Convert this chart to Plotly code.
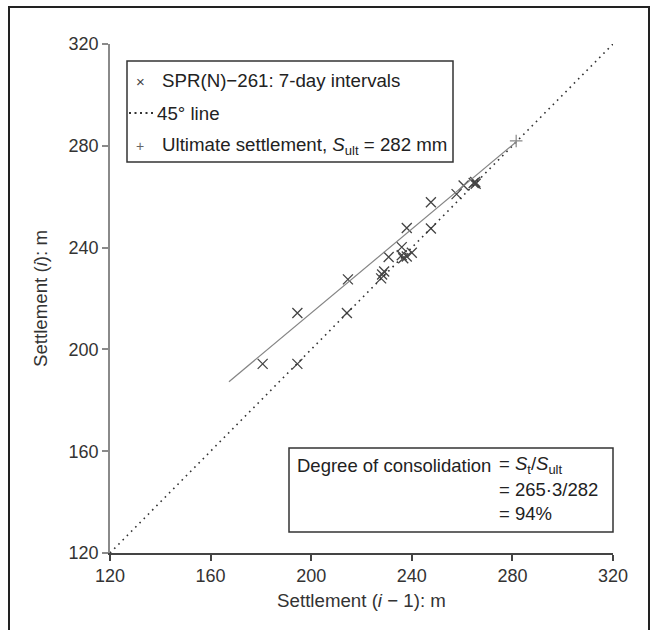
import plotly.graph_objects as go

# Data: settlement pairs (S_{i-1}, S_i), 7-day intervals
s_prev = [180.7, 194.5, 194.5, 214.2, 214.6, 227.8, 228.2, 229.0, 230.8, 236.0,
          236.0, 236.6, 238.0, 240.0, 238.0, 247.6, 247.6, 257.8, 260.6, 264.6,
          265.4, 265.2]
s_curr = [194.3, 194.3, 214.3, 214.3, 227.5, 227.9, 229.4, 230.6, 236.3, 240.2,
          237.0, 235.8, 236.5, 238.0, 247.7, 247.5, 257.8, 261.0, 264.4, 265.4,
          265.1, 265.8]

# 45 degree line
line45_x = [120, 320]
line45_y = [120, 320]

# Fitted line endpoints
fit_x = [167.3, 281.6]
fit_y = [187.3, 281.6]

# Ultimate settlement
s_ult = 282
ult_x = [281.5]
ult_y = [281.9]

tick_vals = [120, 160, 200, 240, 280, 320]

legend_labels = [
    "SPR(N)\u2212261: 7-day intervals",
    "45\u00b0 line",
    "Ultimate settlement, <i>S</i><sub>ult</sub> = %d mm" % s_ult,
]
box_lines = [
    "Degree of consolidation",
    "= <i>S</i><sub>t</sub>/<i>S</i><sub>ult</sub>",
    "= 265\u00b73/282",
    "= 94%",
]

FONT = "Liberation Sans, Arial, Helvetica, sans-serif"
TXT = "#222"

fig = go.Figure()

fig.add_trace(go.Scatter(
    x=s_prev, y=s_curr, mode="markers", name=legend_labels[0],
    marker=dict(symbol="x-thin", size=10, color="#444",
                line=dict(width=1.3, color="#444")),
    showlegend=False,
))
fig.add_trace(go.Scatter(
    x=line45_x, y=line45_y, mode="lines", name="45 line",
    line=dict(color="#333", width=1.6, dash="1.6px,4.4px"),
    showlegend=False,
))
fig.add_trace(go.Scatter(
    x=fit_x, y=fit_y, mode="lines", showlegend=False,
    line=dict(color="#858585", width=1.2),
    hoverinfo="skip",
))
fig.add_trace(go.Scatter(
    x=ult_x, y=ult_y, mode="markers", name="ultimate",
    marker=dict(symbol="cross-thin", size=9, color="#888",
                line=dict(width=1.2, color="#888")),
    showlegend=False,
))

# Plot area in pixels: x 110..613, y 44..553
L, R, T, B = 110, 38, 44, 77
W, H = 651, 630
pw, ph = W - L - R, H - T - B


def px_x(p):
    return (p - L) / pw


def px_y(p):
    return (H - B - p) / ph


shapes = [
    # outer frame
    dict(type="rect", xref="paper", yref="paper",
         x0=px_x(9), x1=px_x(649), y0=px_y(660), y1=px_y(7),
         line=dict(color="#222", width=2), fillcolor="rgba(0,0,0,0)"),
    # legend box
    dict(type="rect", xref="paper", yref="paper",
         x0=px_x(127), x1=px_x(453), y0=px_y(162), y1=px_y(61),
         line=dict(color="#333", width=1.5), fillcolor="white", layer="above"),
    # legend dotted line sample
    dict(type="line", xref="paper", yref="paper",
         x0=px_x(129), x1=px_x(153), y0=px_y(113), y1=px_y(113),
         line=dict(color="#333", width=1.8, dash="2px,3.5px"), layer="above"),
    # consolidation box
    dict(type="rect", xref="paper", yref="paper",
         x0=px_x(289), x1=px_x(613), y0=px_y(532), y1=px_y(448),
         line=dict(color="#333", width=1.5), fillcolor="white", layer="above"),
]

LFS = 18.7
BFS = 18.5
EQ = 497
annotations = [
    # legend symbols and texts
    dict(xref="paper", yref="paper", x=px_x(140), y=px_y(81),
         xanchor="center", yanchor="middle", showarrow=False,
         text="\u00d7", font=dict(size=15, color="#444", family=FONT)),
    dict(xref="paper", yref="paper", x=px_x(160), y=px_y(80),
         xanchor="left", yanchor="middle", showarrow=False,
         text=legend_labels[0], font=dict(size=LFS, color=TXT, family=FONT)),
    dict(xref="paper", yref="paper", x=px_x(155), y=px_y(113),
         xanchor="left", yanchor="middle", showarrow=False,
         text=legend_labels[1], font=dict(size=LFS, color=TXT, family=FONT)),
    dict(xref="paper", yref="paper", x=px_x(140), y=px_y(146),
         xanchor="center", yanchor="middle", showarrow=False,
         text="+", font=dict(size=14, color="#666", family=FONT)),
    dict(xref="paper", yref="paper", x=px_x(160), y=px_y(146),
         xanchor="left", yanchor="middle", showarrow=False,
         text=legend_labels[2], font=dict(size=LFS, color=TXT, family=FONT)),
    # consolidation box text
    dict(xref="paper", yref="paper", x=px_x(EQ - 4), y=px_y(465),
         xanchor="right", yanchor="middle", showarrow=False,
         text=box_lines[0], font=dict(size=BFS, color=TXT, family=FONT)),
    dict(xref="paper", yref="paper", x=px_x(EQ), y=px_y(465),
         xanchor="left", yanchor="middle", showarrow=False,
         text=box_lines[1], font=dict(size=BFS, color=TXT, family=FONT)),
    dict(xref="paper", yref="paper", x=px_x(EQ), y=px_y(489),
         xanchor="left", yanchor="middle", showarrow=False,
         text=box_lines[2], font=dict(size=BFS, color=TXT, family=FONT)),
    dict(xref="paper", yref="paper", x=px_x(EQ), y=px_y(513),
         xanchor="left", yanchor="middle", showarrow=False,
         text=box_lines[3], font=dict(size=BFS, color=TXT, family=FONT)),
]

fig.update_layout(
    width=W, height=H,
    margin=dict(l=L, r=R, t=T, b=B, pad=0),
    paper_bgcolor="white", plot_bgcolor="white",
    font=dict(family=FONT, size=18.5, color="#333"),
    shapes=shapes, annotations=annotations,
    showlegend=False,
)

fig.update_xaxes(
    range=[120, 320], tickvals=tick_vals, showgrid=False, zeroline=False,
    showline=True, linecolor="#444", linewidth=1.5,
    ticks="outside", ticklen=6, tickcolor="#444", tickwidth=1.5,
    tickfont=dict(size=18, color="#333"),
    title=dict(text="Settlement (<i>i</i> \u2212 1): m",
               font=dict(size=18.7, color="#333"), standoff=9),
)
fig.update_yaxes(
    range=[120, 320], tickvals=tick_vals, showgrid=False, zeroline=False,
    showline=True, linecolor="#8a8a8a", linewidth=1.5,
    ticks="outside", ticklen=6, tickcolor="#8a8a8a", tickwidth=1.5,
    tickfont=dict(size=18, color="#333"),
    title=dict(text="Settlement (<i>i</i>): m",
               font=dict(size=18.7, color="#333"), standoff=16),
)

fig.write_html("out.html")
